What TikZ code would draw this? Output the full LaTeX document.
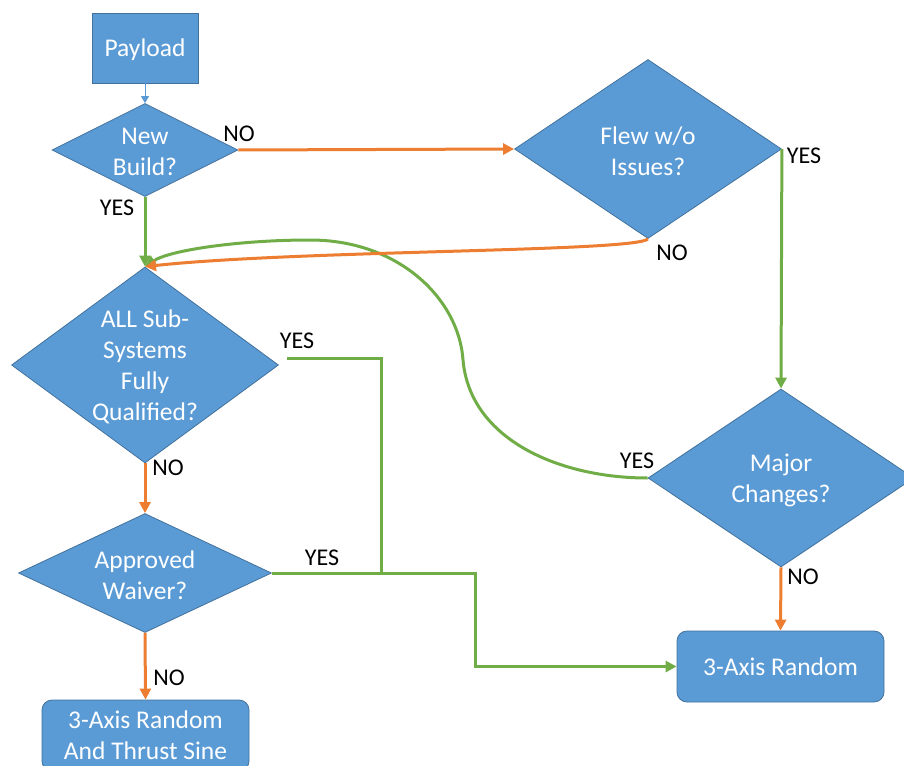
\documentclass[tikz,border=0pt]{standalone}
\usepackage{fontspec}
\setmainfont{Carlito}
\usetikzlibrary{shapes.geometric,arrows.meta}
\definecolor{boxblue}{HTML}{5B9BD5}
\definecolor{boxedge}{HTML}{41719C}
\definecolor{yesgreen}{HTML}{70AD47}
\definecolor{noorange}{HTML}{ED7D31}
\begin{document}
\begin{tikzpicture}[x=1pt,y=-1pt,
  dec/.style={diamond, draw=boxedge, line width=0.8pt, fill=boxblue, inner sep=0pt},
  dtext/.style={text=white, align=center, inner sep=0pt, yshift=-2pt, font=\fontsize{25.5}{31}\selectfont},
  proc/.style={rectangle, draw=boxedge, line width=0.8pt, fill=boxblue, text=white, align=center, inner sep=0pt, font=\fontsize{25.5}{31}\selectfont},
  term/.style={proc, rounded corners=10pt},
  lbl/.style={text=black, inner sep=0pt, font=\fontsize{24}{28}\selectfont},
  yesline/.style={draw=yesgreen, line width=3pt},
  noline/.style={draw=noorange, line width=3pt},
  tip/.style={-{Triangle[length=11pt,width=11pt]}}
]
\useasboundingbox (0,0) rectangle (904,765);

% nodes
\node[proc, minimum width=106pt, minimum height=70pt, text depth=0pt] (payload) at (145,48) {Payload};
\node[dec, minimum width=186pt, minimum height=93pt] (nb) at (145,150) {};
\node[dtext] (nbt) at (nb.center) {New\\Build?};
\node[dec, minimum width=267pt, minimum height=179pt] (flew) at (648,149) {};
\node[dtext] (flewt) at (flew.center) {Flew w/o\\Issues?};
\node[dec, minimum width=267pt, minimum height=196pt] (all) at (145,365) {};
\node[dtext] (allt) at (all.center) {ALL Sub-\\Systems\\Fully\\Qualified?};
\node[dec, minimum width=253pt, minimum height=119pt] (appr) at (145,573) {};
\node[dtext] (apprt) at (appr.center) {Approved\\Waiver?};
\node[dec, minimum width=266pt, minimum height=178pt] (major) at (781,478) {};
\node[dtext] (majort) at (major.center) {Major\\Changes?};
\node[term, minimum width=207pt, minimum height=71pt] (rand) at (780.5,666.5) {3-Axis Random};
\node[term, minimum width=207pt, minimum height=71pt] (sine) at (145.5,735.5) {3-Axis Random\\And Thrust Sine};

\coordinate (allyes) at (287,358);
\coordinate (join) at (381,358);
\coordinate (joinb) at (381,573);
\coordinate (bend1) at (475,573);
\coordinate (bend2) at (475,666.5);

% connectors
\draw[draw=boxblue, line width=1pt, -{Triangle[length=7pt,width=8pt]}] (payload.south) -- (nb.north);
\draw[noline, tip] (nb.east) -- (flew.west);
\draw[yesline, tip] (nb.south) -- (all.north);
\draw[yesline, tip] (flew.east) -- (major.north);
\draw[yesline, tip] (major.west) .. controls (560,478) and (470,440) .. (463,360)
   .. controls (459,300) and (400,240) .. (310,240)
   .. controls (240,240) and (170,250) .. (all.north);
\draw[noline, tip] (flew.south) .. controls (635,252) and (300,250) .. (all.north);
\draw[noline, tip] (all.south) -- (appr.north);
\draw[yesline] (allyes) -- (join) -- (joinb);
\draw[yesline, tip] (appr.east) -- (bend1) -- (bend2) -- (rand.west);
\draw[noline, tip] (appr.south) -- (sine.north);
\draw[noline, tip] (major.south) -- (rand.north);

% labels
\node[lbl] (l1) at (239,134) {NO};
\node[lbl] (l2) at (117,208) {YES};
\node[lbl] (l3) at (804,156) {YES};
\node[lbl] (l4) at (672,253) {NO};
\node[lbl] (l5) at (297,341) {YES};
\node[lbl] (l6) at (168,468) {NO};
\node[lbl] (l7) at (322,558) {YES};
\node[lbl] (l8) at (169,678) {NO};
\node[lbl] (l9) at (637,461) {YES};
\node[lbl] (l10) at (803,577) {NO};
\end{tikzpicture}
\end{document}
